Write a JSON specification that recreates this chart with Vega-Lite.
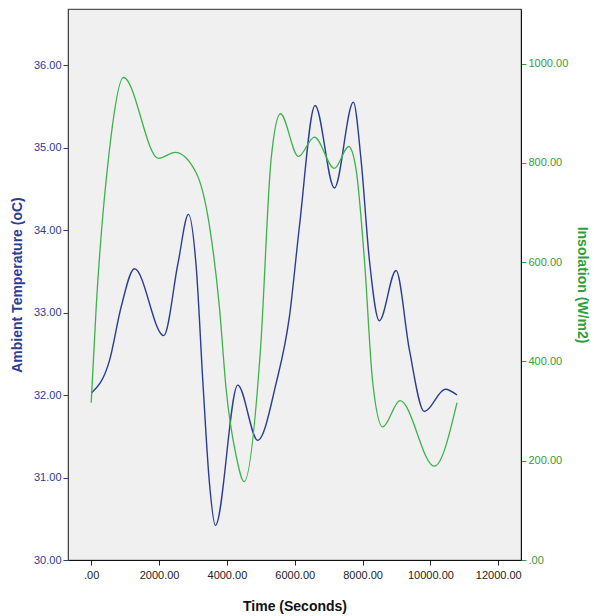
{
  "$schema": "https://vega.github.io/schema/vega-lite/v6.json",
  "autosize": {"type": "none"},
  "padding": {"left": 68, "top": 9, "right": 73, "bottom": 56},
  "width": 453,
  "height": 551,
  "background": "white",
  "config": {
    "view": {"fill": "#f0f0f0", "stroke": "#555555", "strokeWidth": 1.2},
    "axis": {"grid": false, "labelFont": "Liberation Sans", "titleFont": "Liberation Sans", "labelFontSize": 11, "titleFontSize": 14, "titleFontWeight": "bold", "tickSize": 5}
  },
  "datasets": {
    "temp": [
      {"t": 0, "v": 32.02},
      {"t": 540, "v": 32.42},
      {"t": 884, "v": 33.07},
      {"t": 1276, "v": 33.53},
      {"t": 2139, "v": 32.72},
      {"t": 2560, "v": 33.6},
      {"t": 2867, "v": 34.19},
      {"t": 3094, "v": 33.56},
      {"t": 3300, "v": 32.1},
      {"t": 3486, "v": 30.93},
      {"t": 3662, "v": 30.42},
      {"t": 4320, "v": 32.12},
      {"t": 4910, "v": 31.45},
      {"t": 5450, "v": 32.14},
      {"t": 5843, "v": 32.95},
      {"t": 6137, "v": 34.04},
      {"t": 6600, "v": 35.51},
      {"t": 7169, "v": 34.51},
      {"t": 7728, "v": 35.55},
      {"t": 7955, "v": 34.85},
      {"t": 8200, "v": 33.64},
      {"t": 8494, "v": 32.9},
      {"t": 8987, "v": 33.51},
      {"t": 9379, "v": 32.55},
      {"t": 9820, "v": 31.8},
      {"t": 10439, "v": 32.07},
      {"t": 10784, "v": 32.0}
    ],
    "ins": [
      {"t": 0, "v": 317},
      {"t": 147, "v": 509},
      {"t": 539, "v": 827},
      {"t": 952, "v": 972},
      {"t": 1983, "v": 809},
      {"t": 2475, "v": 821},
      {"t": 3094, "v": 780},
      {"t": 3486, "v": 673},
      {"t": 3780, "v": 509},
      {"t": 3978, "v": 344},
      {"t": 4272, "v": 210},
      {"t": 4508, "v": 158},
      {"t": 4990, "v": 424},
      {"t": 5303, "v": 807},
      {"t": 5578, "v": 899},
      {"t": 6108, "v": 813},
      {"t": 6580, "v": 852},
      {"t": 7169, "v": 789},
      {"t": 7590, "v": 833},
      {"t": 7808, "v": 787},
      {"t": 8053, "v": 606},
      {"t": 8298, "v": 358},
      {"t": 8592, "v": 268},
      {"t": 9104, "v": 321},
      {"t": 10115, "v": 189},
      {"t": 10784, "v": 317}
    ]
  },
  "layer": [
    {
      "data": {"name": "temp"},
      "mark": {"type": "line", "interpolate": "monotone", "color": "#2a3d94", "strokeWidth": 1.4},
      "encoding": {
        "x": {
          "field": "t", "type": "quantitative",
          "scale": {"domain": [-684, 12670], "nice": false, "zero": false},
          "axis": {
            "title": "Time (Seconds)", "titleColor": "#111111", "titlePadding": 19,
            "values": [0, 2000, 4000, 6000, 8000, 10000, 12000],
            "labelExpr": "datum.value == 0 ? '.00' : format(datum.value, '.2f')",
            "labelColor": "#222222", "tickColor": "#222222", "domainColor": "#111111", "labelPadding": 4
          }
        },
        "y": {
          "field": "v", "type": "quantitative",
          "scale": {"domain": [30, 36.679], "nice": false, "zero": false},
          "axis": {
            "title": "Ambient Temperature (oC)", "titleColor": "#2a3d94", "titlePadding": 9,
            "values": [30, 31, 32, 33, 34, 35, 36],
            "format": ".2f",
            "labelColor": "#2a3d94", "tickColor": "#2a3d94", "domainColor": "#444444", "labelPadding": 2
          }
        }
      }
    },
    {
      "data": {"name": "ins"},
      "mark": {"type": "line", "interpolate": "monotone", "color": "#3cb24a", "strokeWidth": 1.3},
      "encoding": {
        "x": {"field": "t", "type": "quantitative"},
        "y": {
          "field": "v", "type": "quantitative",
          "scale": {"domain": [0, 1110], "nice": false, "zero": false},
          "axis": {
            "orient": "right",
            "title": "Insolation (W/m2)", "titleColor": "#2e9e3c", "titlePadding": 7,
            "values": [0, 200, 400, 600, 800, 1000],
            "labelExpr": "datum.value == 0 ? '.00' : format(datum.value, '.2f')",
            "labelColor": "#2e9e3c", "tickColor": "#2e9e3c", "domainColor": "#111111", "labelPadding": 2
          }
        }
      }
    }
  ],
  "resolve": {"scale": {"y": "independent"}}
}
